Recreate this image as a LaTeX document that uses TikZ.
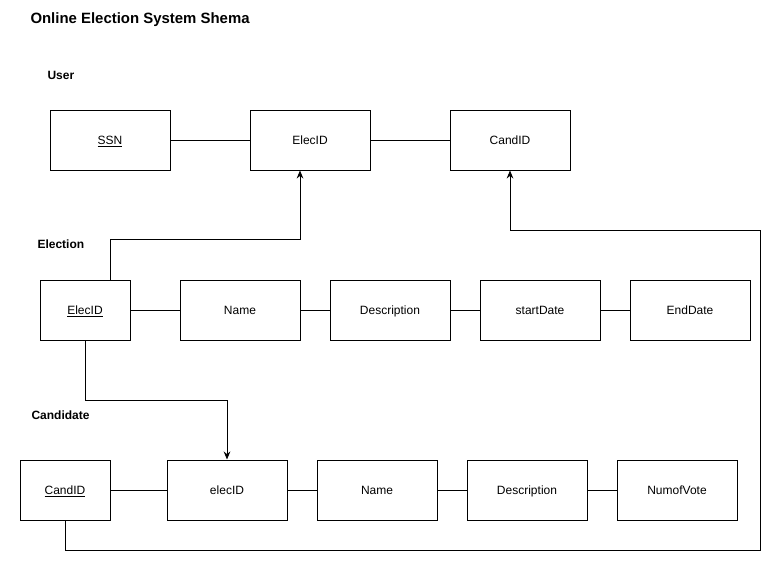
\documentclass[tikz,border=0pt]{standalone}
\usepackage{fontspec}
\setmainfont{Liberation Sans}
\usetikzlibrary{arrows.meta}

\begin{document}
\begin{tikzpicture}[x=0.75pt,y=-0.75pt,line width=0.75pt,
    field/.style={draw, minimum width=90pt, minimum height=45pt, inner sep=0pt, text height=1.5ex, text depth=.3ex, font=\fontsize{9}{11}\selectfont},
    keyfield/.style={field, minimum width=67.5pt},
    tablename/.style={anchor=west, inner sep=0pt, font=\fontsize{9}{11}\selectfont\bfseries},
    link/.style={-{Stealth[length=6pt,width=5pt]}}]
    \useasboundingbox (0,0) rectangle (770,560);
    \node[anchor=west, inner sep=0pt, font=\fontsize{11.2}{13}\selectfont\bfseries] (title) at (30,20) {Online Election System Shema};
    % User table
    \node[tablename] (user) at (47,75) {User};
    \node[field] (ussn) at (110,140) {\underline{SSN}};
    \node[field] (uelec) at (310,140) {ElecID};
    \node[field] (ucand) at (510,140) {CandID};
    \draw (ussn) -- (uelec) -- (ucand);
    % Election table
    \node[tablename] (election) at (37,244) {Election};
    \node[keyfield] (eid) at (85,310) {\underline{ElecID}};
    \node[field] (ename) at (240,310) {Name};
    \node[field] (edesc) at (390,310) {Description};
    \node[field] (estart) at (540,310) {startDate};
    \node[field] (eend) at (690,310) {EndDate};
    \draw (eid) -- (ename) -- (edesc) -- (estart) -- (eend);
    % Candidate table
    \node[tablename] (candidate) at (31,415) {Candidate};
    \node[keyfield] (ccand) at (65,490) {\underline{CandID}};
    \node[field] (celec) at (227,490) {elecID};
    \node[field] (cname) at (377,490) {Name};
    \node[field] (cdesc) at (527,490) {Description};
    \node[field] (cvote) at (677,490) {NumofVote};
    \draw (ccand) -- (celec) -- (cname) -- (cdesc) -- (cvote);
    % references
    \draw[link] ([xshift=18.75pt]eid.north) -- ++(0,-40) -| ([xshift=-7.5pt]uelec.south);
    \draw[link] (eid.south) -- ++(0,60) -| (celec.north);
    \coordinate (corner) at (760,550);
    \coordinate (turn) at (760,230);
    \draw[link] (ccand.south) |- (corner) -- (turn) -| (ucand.south);
\end{tikzpicture}
\end{document}
